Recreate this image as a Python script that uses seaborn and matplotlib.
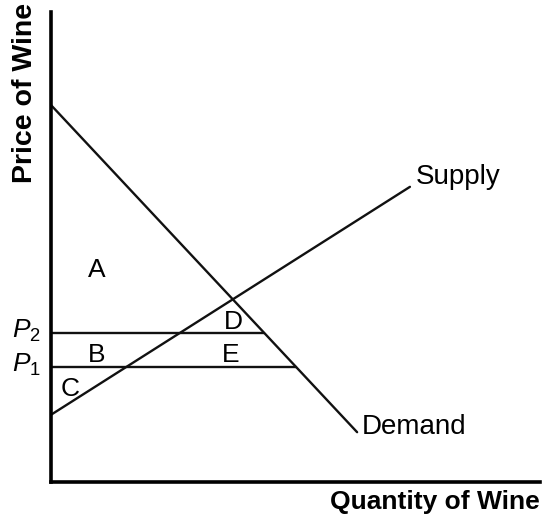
import numpy as np
import pandas as pd
import matplotlib
matplotlib.use("Agg")
import matplotlib.pyplot as plt
import seaborn as sns

# ---- data (quantity / price units) ----
demand_q = [0.0, 6.26]
demand_p = [8.02, 1.06]
supply_q = [0.0, 7.34]
supply_p = [1.43, 6.28]
price_levels = {"P2": 3.17, "P1": 2.45}
area_labels = ["A", "B", "C", "D", "E"]
area_q = [0.94, 0.94, 0.39, 3.72, 3.68]
area_p = [4.51, 2.70, 1.98, 3.40, 2.70]

sns.set_style("white")
plt.rcParams["font.family"] = ["Liberation Sans", "DejaVu Sans"]
plt.rcParams["mathtext.fontset"] = "custom"
plt.rcParams["mathtext.rm"] = "Liberation Sans"
plt.rcParams["mathtext.it"] = "Liberation Sans:italic"
plt.rcParams["text.color"] = "black"

fig = plt.figure(figsize=(5.42, 5.17), dpi=100)
ax = fig.add_axes([51 / 542, 35 / 517, 489 / 542, 470 / 517])
ax.set_xlim(0, 10)
ax.set_ylim(0, 10)

col = "#111111"
dem = pd.DataFrame({"q": demand_q, "p": demand_p})
sup = pd.DataFrame({"q": supply_q, "p": supply_p})
sns.lineplot(data=dem, x="q", y="p", ax=ax, color=col, lw=1.7, sort=False)
sns.lineplot(data=sup, x="q", y="p", ax=ax, color=col, lw=1.7, sort=False)

# horizontal price lines from axis to demand curve
slope = (demand_p[1] - demand_p[0]) / (demand_q[1] - demand_q[0])
for name, p in price_levels.items():
    q_end = demand_q[0] + (p - demand_p[0]) / slope
    ax.plot([0, q_end], [p, p], color=col, lw=1.7)
    ax.text(-0.2, p + 0.05, r"$P_{%s}$" % name[1], ha="right", va="center",
            fontsize=19, clip_on=False)

for lab, q, p in zip(area_labels, area_q, area_p):
    ax.text(q, p, lab, ha="center", va="center", fontsize=19)

ax.text(supply_q[1] + 0.12, supply_p[1] + 0.21, "Supply", ha="left",
        va="center", fontsize=20)
ax.text(demand_q[1] + 0.1, demand_p[1] + 0.1, "Demand", ha="left",
        va="center", fontsize=20)

ax.set_xticks([])
ax.set_yticks([])
ax.set_xlabel("")
ax.set_ylabel("")
for s in ["top", "right"]:
    ax.spines[s].set_visible(False)
for s in ["left", "bottom"]:
    ax.spines[s].set_color("black")
    ax.spines[s].set_linewidth(2.6)

fig.text(540 / 542, 3 / 517, "Quantity of Wine", ha="right", va="bottom",
         fontsize=19, fontweight="bold")
fig.text(25 / 542, 1 - 3 / 517, "Price of Wine", ha="center", va="top",
         rotation=90, fontsize=20.5, fontweight="bold")

fig.savefig("out.png", dpi=100, facecolor="white")
